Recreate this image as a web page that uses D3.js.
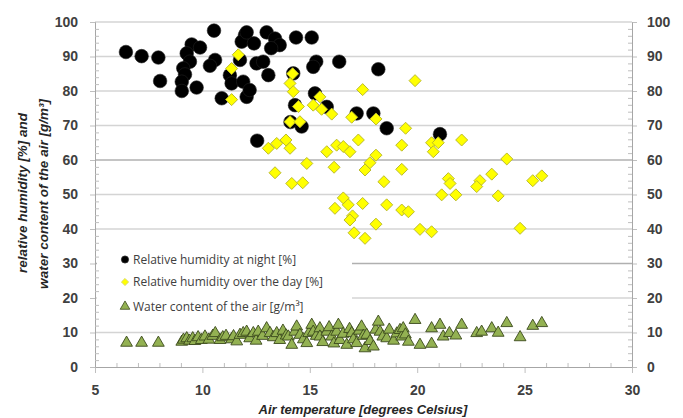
<!DOCTYPE html>
<html>
<head>
<meta charset="utf-8">
<script src="https://cdn.jsdelivr.net/npm/d3@7"></script>
<style>
body { margin: 0; background: #fff; }
svg { font-family: "Liberation Sans", Arial, sans-serif; }
.axis path, .axis line { stroke: #bfbfbf; }
.axis text { font-size: 14px; font-weight: bold; fill: #404040; }
.legend text { font-family: "Open Sans", sans-serif; font-size: 12px; fill: #404040; }
.title { font-size: 13px; font-weight: bold; font-style: italic; fill: #262626; }
.ytitle { font-size: 13.5px; }
</style>
</head>
<body>
<div id="chart"></div>
<script>
// [air temperature, value]
var nightData = [
  [6.44,91.3],[7.17,90.1],[7.95,89.7],[8.03,82.9],[10.54,97.5],[9.5,93.5],[9.89,92.6],
  [9.27,90.9],[9.42,88.5],[9.11,86.6],[9.19,84.8],[9.04,82.7],[9.04,80],[9.73,81],
  [10.59,89],[10.35,87.3],[10.9,77.9],[11.28,84.6],[11.36,82.2],[11.75,89],[11.98,96.2],
  [11.9,82.7],[12.06,78.3],[11.83,94.3],[12.06,97],[12.4,93.8],[12.99,97],[13.38,95.2],
  [13.6,93.3],[13.2,92.4],[14.36,95.5],[15.09,95.5],[12.52,88],[12.83,88.5],[13.07,84.6],
  [12.2,80.3],[15.3,88.5],[15.16,87],[16.37,88.5],[18.19,86.3],[14.23,85.1],[15.24,79.3],
  [14.31,75.9],[14.62,69.7],[15.79,75.4],[17.18,73.5],[17.96,73.5],[18.58,69.2],
  [12.55,65.6],[14.1,71],[21.06,67.5]
];
var dayData = [
  [11.67,90.5],[11.36,86.5],[11.36,77.5],[14.2,85],[14.08,82.2],[14.23,79.8],[15.47,78.3],
  [15.16,75.9],[15.55,74.7],[14.47,75.5],[16.02,73.3],[17.46,80.4],[16.95,72.4],[18.08,71.9],
  [19.9,83],[14.08,71.1],[14.54,71.1],[19.46,69.2],[13.07,63.4],[13.46,64.8],[13.89,65.8],
  [14.08,63.4],[13.38,56.3],[14.86,59],[14.16,53.2],[14.67,53.4],[15.79,62.4],[16.25,64.3],
  [16.56,63.9],[16.87,62.4],[17.26,65.8],[16.13,57.9],[18.08,61.4],[17.8,59.2],[17.57,57.1],
  [19.28,64.3],[19.28,57.3],[18.45,53.7],[16.56,49],[16.79,47],[16.17,46],[17.46,47.4],
  [16.99,43.8],[16.87,42.6],[18.58,47],[18.08,41.4],[17.06,38.9],[17.57,37.3],[20.67,65],
  [20.98,65],[20.75,62.4],[22.07,65.8],[24.17,60.3],[21.45,54.6],[21.53,53.2],[22.92,54],
  [22.77,52.3],[23.47,55.9],[25.38,54],[25.8,55.4],[21.14,49.9],[21.8,49.9],[23.77,49.6],
  [19.28,45.5],[19.59,45],[20.13,39.9],[20.67,39.2],[24.79,40.2]
];
var waterData = [
  [6.47,7.0],[7.17,7.0],[7.95,7.0],[9.04,7.3],[9.12,7.9],[9.27,8.3],[9.4,7.6],[9.55,8.3],
  [9.65,7.5],[9.8,8.6],[9.95,7.8],[10.12,8.8],[10.3,7.9],[10.48,9.0],[10.6,9.8],[10.82,7.8],
  [10.95,8.6],[11.1,9.0],[11.36,8.0],[11.45,8.9],[11.6,7.4],[11.75,9.3],[11.9,9.8],[12.06,10.2],
  [12.2,8.3],[12.37,9.8],[12.5,7.6],[12.6,10.2],[12.8,9.0],[12.99,11.2],[13.15,9.8],[13.3,8.6],
  [13.46,9.8],[13.6,7.8],[13.75,10.5],[13.9,9.1],[14.0,8.8],[14.16,6.4],[14.3,10.2],[14.39,11.7],
  [14.54,9.3],[14.7,8.0],[14.86,6.9],[14.95,9.8],[15.09,12.2],[15.16,10.2],[15.3,9.0],[15.47,11.2],
  [15.47,8.8],[15.6,7.2],[15.79,10.2],[15.9,11.5],[16.02,8.8],[16.12,6.8],[16.25,10.2],[16.33,12.2],
  [16.4,7.8],[16.55,9.6],[16.72,6.4],[16.85,11.0],[16.95,9.8],[17.03,8.0],[17.18,6.9],[17.3,10.5],
  [17.41,11.7],[17.49,9.0],[17.57,5.4],[17.65,9.3],[17.8,7.5],[17.96,5.9],[18.07,10.8],[18.19,13.1],
  [18.27,10.2],[18.4,8.8],[18.58,8.3],[18.7,10.8],[18.9,7.6],[19.05,9.7],[19.2,10.7],[19.28,8.8],
  [19.35,11.2],[19.45,9.4],[19.59,7.3],[19.9,13.6],[20.13,6.4],[20.67,6.7],[20.67,11.2],[21.06,12.2],
  [21.21,8.8],[21.5,9.8],[21.8,9.1],[22.07,12.2],[22.77,9.8],[23.0,10.2],[23.47,11.2],[23.77,9.9],
  [24.17,12.7],[24.79,8.6],[25.38,11.9],[25.8,12.7]
];
var xTicks = [5, 10, 15, 20, 25, 30];
var yTicks = [0, 10, 20, 30, 40, 50, 60, 70, 80, 90, 100];
var legendLabels = ["Relative humidity at night [%]", "Relative humidity over the day [%]", "Water content of the air [g/m³]"];

var W = 683, H = 418;
var svg = d3.select("#chart").append("svg")
  .attr("width", W).attr("height", H);

var x = d3.scaleLinear().domain([5, 30]).range([95, 632]);
var y = d3.scaleLinear().domain([0, 100]).range([367, 22]);

//gridlines
svg.append("g").selectAll("line")
  .data(yTicks.slice(1))
  .enter().append("line")
  .attr("x1", x(5)).attr("x2", x(30))
  .attr("y1", function(d) { return y(d); })
  .attr("y2", function(d) { return y(d); })
  .style("stroke", function(d) { return (d == 30 || d == 60) ? "#b0b0b0" : "#d4d4d4"; })
  .style("stroke-width", 1.3);

//legend box hides part of the grid
var legend = svg.append("g").attr("class", "legend");
legend.append("rect")
  .attr("x", 97).attr("y", 247).attr("width", 255).attr("height", 72)
  .style("fill", "#fff");

//points
var triangle = d3.symbol().type(d3.symbolTriangle).size(60);
var square = d3.symbol().type(d3.symbolSquare).size(72);

svg.append("g").selectAll("circle")
  .data(nightData)
  .enter().append("circle")
  .attr("cx", function(d) { return x(d[0]); })
  .attr("cy", function(d) { return y(d[1]); })
  .attr("r", 6.8)
  .style("fill", "#000")
  .style("stroke", "#222")
  .style("stroke-width", 0.6);

svg.append("g").selectAll("path")
  .data(dayData)
  .enter().append("path")
  .attr("d", square)
  .attr("transform", function(d) { return "translate(" + x(d[0]) + "," + y(d[1]) + ") rotate(45)"; })
  .style("fill", "#ffff00")
  .style("stroke", "#b8b82a")
  .style("stroke-width", 0.9);

svg.append("g").selectAll("path")
  .data(waterData)
  .enter().append("path")
  .attr("d", triangle)
  .attr("transform", function(d) { return "translate(" + x(d[0]) + "," + y(d[1]) + ")"; })
  .style("fill", "#93b152")
  .style("stroke", "#3b4a1c")
  .style("stroke-width", 0.9);

//legend entries
var items = legend.selectAll(".item")
  .data(legendLabels)
  .enter().append("g")
  .attr("transform", function(d, i) { return "translate(125," + [259.5, 282, 306.5][i] + ")"; });
items.append("path")
  .attr("d", function(d, i) {
    if (i == 0) return d3.symbol().type(d3.symbolCircle).size(40)();
    if (i == 1) return d3.symbol().type(d3.symbolSquare).size(26)();
    return d3.symbol().type(d3.symbolTriangle).size(40)();
  })
  .attr("transform", function(d, i) { return i == 1 ? "rotate(45)" : null; })
  .style("fill", function(d, i) { return ["#000", "#ffff00", "#93b152"][i]; })
  .style("stroke", function(d, i) { return ["#222", "#d4d46a", "#3b4a1c"][i]; })
  .style("stroke-width", 0.8);
items.append("text")
  .attr("x", 8).attr("dy", "0.35em")
  .text(function(d) { return d; });

//axes
var minorY = d3.range(0, 101, 2).filter(function(d) { return d % 10 != 0; });
var minorX = d3.range(5, 31, 1).filter(function(d) { return d % 5 != 0; });

svg.append("g").attr("class", "axis")
  .attr("transform", "translate(" + x(5) + ",0)")
  .call(d3.axisLeft(y).tickValues(yTicks).tickSize(5).tickSizeOuter(0).tickPadding(12));
svg.append("g").attr("class", "axis")
  .attr("transform", "translate(" + x(5) + ",0)")
  .call(d3.axisLeft(y).tickValues(minorY).tickSize(-4).tickSizeOuter(0).tickFormat(""));

svg.append("g").attr("class", "axis")
  .attr("transform", "translate(" + x(30) + ",0)")
  .call(d3.axisRight(y).tickValues(yTicks).tickSize(5).tickSizeOuter(0).tickPadding(10));
svg.append("g").attr("class", "axis")
  .attr("transform", "translate(" + x(30) + ",0)")
  .call(d3.axisRight(y).tickValues(minorY).tickSize(-4).tickSizeOuter(0).tickFormat(""));

svg.append("g").attr("class", "axis")
  .attr("transform", "translate(0," + y(0) + ")")
  .call(d3.axisBottom(x).tickValues(xTicks).tickSize(6).tickSizeOuter(0).tickPadding(12));
svg.append("g").attr("class", "axis")
  .attr("transform", "translate(0," + y(0) + ")")
  .call(d3.axisBottom(x).tickValues(minorX).tickSize(-4).tickSizeOuter(0).tickFormat(""));
svg.selectAll(".axis path.domain").style("stroke", "#a6a6a6");

//titles
svg.append("text")
  .attr("class", "title")
  .attr("x", 363).attr("y", 414)
  .attr("text-anchor", "middle")
  .text("Air temperature [degrees Celsius]");

svg.append("text")
  .attr("class", "title ytitle")
  .attr("transform", "translate(27,193) rotate(-90)")
  .attr("text-anchor", "middle")
  .text("relative humidity [%] and");
svg.append("text")
  .attr("class", "title ytitle")
  .attr("transform", "translate(48,194) rotate(-90)")
  .attr("text-anchor", "middle")
  .text("water content of the air [g/m³]");
</script>
</body>
</html>
